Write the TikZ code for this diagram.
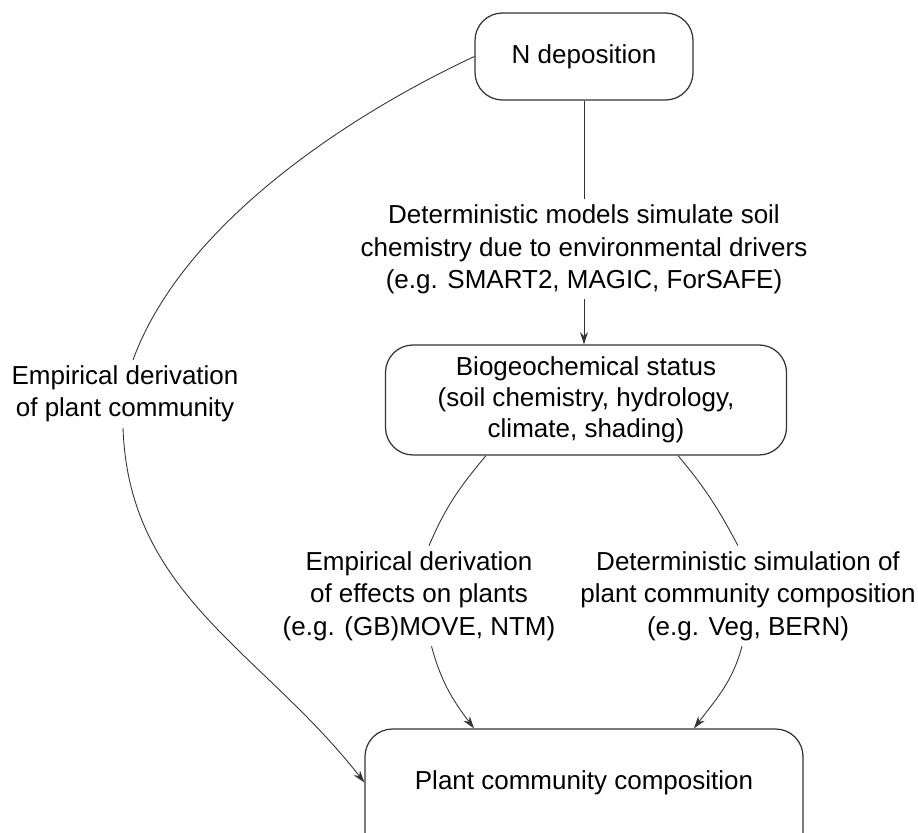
\documentclass[tikz,border=0pt]{standalone}
\usepackage{fontspec}
\setmainfont{Liberation Sans}
\usetikzlibrary{arrows.meta}

\begin{document}
\begin{tikzpicture}[
    box/.style={rectangle, draw=black!80, line width=0.7pt, rounded corners=0.55cm, align=center, font=\fontsize{14.8}{17.5}\selectfont},
    lbl/.style={align=center, inner sep=3pt, font=\fontsize{14.8}{18.5}\selectfont},
    link/.style={draw=black!80, line width=0.5pt, -{Stealth[length=7pt,width=4.5pt]}},
    plain/.style={draw=black!80, line width=0.5pt}
]
\useasboundingbox (0,0) rectangle (18.36,16.66);

% Boxes
\node[box, minimum width=4.36cm, minimum height=1.74cm] (ndep) at (11.68,15.53) {N deposition};
\node[box, minimum width=8.02cm, minimum height=2.2cm] (bio) at (11.72,8.66) {Biogeochemical status\\(soil chemistry, hydrology,\\climate, shading)};
\node[box, minimum width=8.76cm, inner ysep=0pt, text height=1.22cm, text depth=1.4cm, anchor=base] (plant) at (11.68,0.86) {Plant community composition};

% Labels
\node[lbl] (emplbl) at (2.5,8.78) {Empirical derivation\\of plant community};
\node[lbl] (efflbl) at (8.38,4.74) {Empirical derivation\\of effects on plants\\(e.g. (GB)MOVE, NTM)};
\node[lbl] (simlbl) at (14.96,4.74) {Deterministic simulation of\\plant community composition\\(e.g. Veg, BERN)};

% Connectors
\draw[link] (ndep.south) -- node[lbl, fill=white, pos=0.61] (mdllbl) {Deterministic models simulate soil\\chemistry due to environmental drivers\\(e.g. SMART2, MAGIC, ForSAFE)} (ndep.south |- bio.north);
\draw[plain] (ndep.west) to[out=205, in=70, looseness=0.8] ([xshift=0.16cm]emplbl.north);
\draw[link] ([xshift=-0.04cm]emplbl.south) to[out=-88, in=128] ([yshift=0.24cm]plant.west);
\draw[plain] ([xshift=-2cm]bio.south) to[out=230, in=67] ([xshift=0.2cm]efflbl.north);
\draw[link] ([xshift=0.25cm]efflbl.south) to[out=-75, in=127] ([xshift=-2.2cm]plant.north);
\draw[plain] ([xshift=1.84cm]bio.south) to[out=-50, in=118] ([xshift=-0.2cm]simlbl.north);
\draw[link] ([xshift=-0.12cm]simlbl.south) to[out=-105, in=53] ([xshift=2.2cm]plant.north);
\end{tikzpicture}
\end{document}
